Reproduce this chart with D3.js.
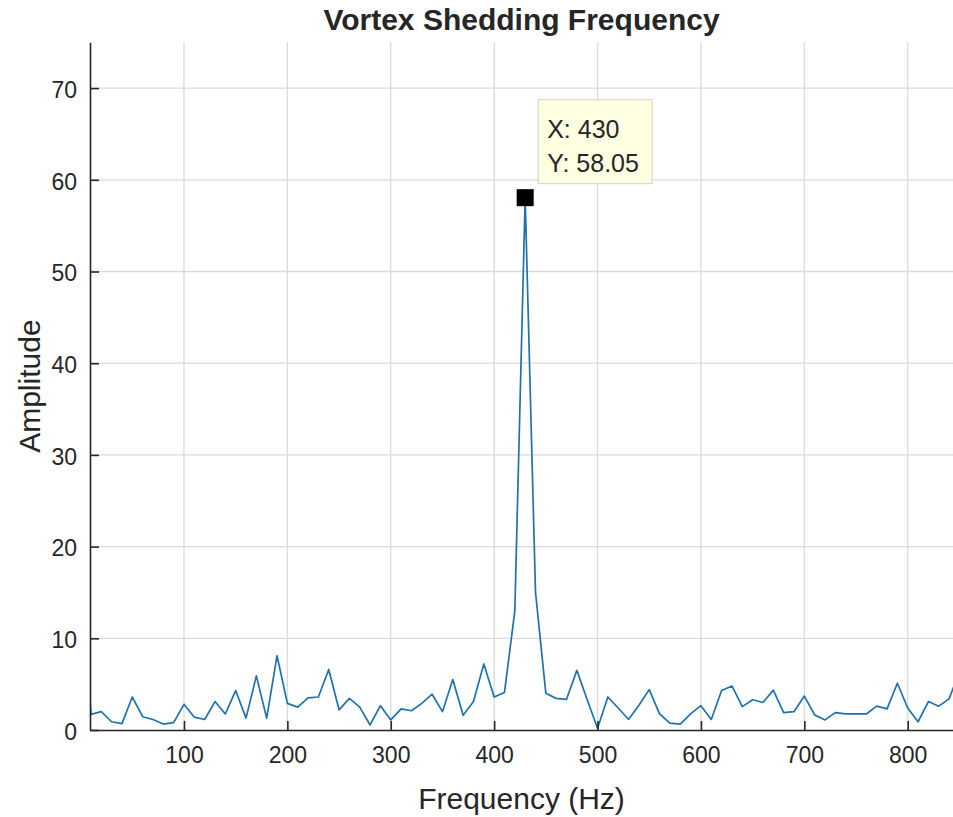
<!DOCTYPE html>
<html>
<head>
<meta charset="utf-8">
<script src="https://cdn.jsdelivr.net/npm/d3@7/dist/d3.min.js"></script>
<style>
  html, body { margin: 0; padding: 0; background: #ffffff; }
  svg { display: block; }
  text { font-family: "Liberation Sans", Arial, Helvetica, sans-serif; fill: #262626; }
</style>
</head>
<body>
<svg id="chart" width="953" height="817"></svg>
<script>
// Spectrum of the wake velocity signal, 10 Hz bins
const frequencies = [0, 10, 20, 30, 40, 50, 60, 70, 80, 90,
  100, 110, 120, 130, 140, 150, 160, 170, 180, 190,
  200, 210, 220, 230, 240, 250, 260, 270, 280, 290,
  300, 310, 320, 330, 340, 350, 360, 370, 380, 390,
  400, 410, 420, 430, 440, 450, 460, 470, 480, 490,
  500, 510, 520, 530, 540, 550, 560, 570, 580, 590,
  600, 610, 620, 630, 640, 650, 660, 670, 680, 690,
  700, 710, 720, 730, 740, 750, 760, 770, 780, 790,
  800, 810, 820, 830, 840, 850];

const amplitudes = [22.0, 1.7, 2.0, 0.9, 0.7, 3.6, 1.45, 1.15, 0.65, 0.8,
  2.8, 1.4, 1.15, 3.1, 1.75, 4.3, 1.3, 5.9, 1.3, 8.1,
  2.9, 2.5, 3.5, 3.6, 6.6, 2.2, 3.45, 2.5, 0.55, 2.65,
  1.1, 2.3, 2.1, 2.9, 3.9, 2.0, 5.5, 1.6, 3.1, 7.2,
  3.6, 4.1, 13.0, 58.05, 15.0, 4.0, 3.45, 3.35, 6.5, 3.3,
  0.2, 3.6, 2.4, 1.15, 2.7, 4.4, 1.75, 0.75, 0.65, 1.75,
  2.65, 1.15, 4.3, 4.8, 2.55, 3.3, 3.0, 4.35, 1.9, 2.0,
  3.7, 1.65, 1.1, 1.9, 1.75, 1.75, 1.75, 2.6, 2.3, 5.1,
  2.4, 0.9, 3.1, 2.6, 3.4, 6.3];

const xTicks = [100, 200, 300, 400, 500, 600, 700, 800];
const yTicks = [0, 10, 20, 30, 40, 50, 60, 70];
const xLimits = [9.1, 843.8];
const yLimits = [0, 75];

// Highlighted data point (data cursor)
const cursorFreq = 430;
const cursorAmp = 58.05;

const titleText = "Vortex Shedding Frequency";
const xLabelText = "Frequency (Hz)";
const yLabelText = "Amplitude";

const svg = d3.select("#chart");
const plot = { left: 90, right: 953, top: 42.25, bottom: 730 };

const x = d3.scaleLinear().domain(xLimits).range([plot.left, plot.right]);
const y = d3.scaleLinear().domain(yLimits).range([plot.bottom, plot.top]);

const gridColor = "#dadada";
const axisColor = "#262626";
const textColor = "#333333";

// grid
const grid = svg.append("g").attr("class", "grid");
grid.selectAll("line.gx").data(xTicks).join("line")
  .attr("class", "gx")
  .attr("x1", d => x(d)).attr("x2", d => x(d))
  .attr("y1", plot.top).attr("y2", plot.bottom)
  .attr("stroke", gridColor).attr("stroke-width", 1.3);
grid.selectAll("line.gy").data(yTicks.filter(d => d > 0)).join("line")
  .attr("class", "gy")
  .attr("x1", plot.left).attr("x2", plot.right)
  .attr("y1", d => y(d)).attr("y2", d => y(d))
  .attr("stroke", gridColor).attr("stroke-width", 1.3);

// spectrum line, clipped to the axes
svg.append("defs").append("clipPath").attr("id", "plotClip")
  .append("rect")
  .attr("x", plot.left).attr("y", plot.top)
  .attr("width", plot.right - plot.left).attr("height", plot.bottom - plot.top);

const points = frequencies.map((f, i) => [f, amplitudes[i]]);
const line = d3.line().x(d => x(d[0])).y(d => y(d[1]));

svg.append("path")
  .datum(points)
  .attr("clip-path", "url(#plotClip)")
  .attr("fill", "none")
  .attr("stroke", "#1f73ad")
  .attr("stroke-width", 1.7)
  .attr("stroke-linejoin", "round")
  .attr("d", line);

// axes with inward ticks
const tickFont = 23;
const xAxis = svg.append("g")
  .attr("transform", `translate(0,${plot.bottom})`)
  .call(d3.axisBottom(x).tickValues(xTicks).tickSize(-9).tickSizeOuter(0).tickPadding(17).tickFormat(d3.format("d")));
const yAxis = svg.append("g")
  .attr("transform", `translate(${plot.left},0)`)
  .call(d3.axisLeft(y).tickValues(yTicks).tickSize(-9).tickSizeOuter(0).tickPadding(13).tickFormat(d3.format("d")));

[xAxis, yAxis].forEach(g => {
  g.select(".domain").attr("stroke", axisColor).attr("stroke-width", 1.6);
  g.selectAll(".tick line").attr("stroke", axisColor).attr("stroke-width", 1.6);
  g.selectAll(".tick text")
    .attr("font-size", tickFont)
    .attr("font-family", "Liberation Sans, Arial, sans-serif")
    .attr("fill", textColor);
});
yAxis.selectAll(".tick text").attr("dy", "0.4em");

// data cursor marker
const mSize = 17;
svg.append("rect")
  .attr("x", x(cursorFreq) - mSize / 2)
  .attr("y", y(cursorAmp) - mSize / 2)
  .attr("width", mSize).attr("height", mSize)
  .attr("fill", "#000000");

// data tip box
const tip = svg.append("g")
  .attr("transform", `translate(${x(cursorFreq) + 13},${y(cursorAmp) - 98})`);
tip.append("rect")
  .attr("x", 0).attr("y", 0)
  .attr("width", 114).attr("height", 84)
  .attr("fill", "#ffffe1")
  .attr("stroke", "#d4d4c4").attr("stroke-width", 1);
tip.append("text").attr("x", 9).attr("y", 38)
  .attr("font-size", 25)
  .attr("fill", textColor)
  .text(`X: ${cursorFreq}`);
tip.append("text").attr("x", 9).attr("y", 72)
  .attr("font-size", 25)
  .attr("fill", textColor)
  .text(`Y: ${d3.format(".2f")(cursorAmp)}`);

// title and axis labels
const midX = (plot.left + plot.right) / 2;
svg.append("text")
  .attr("x", midX).attr("y", 30)
  .attr("text-anchor", "middle")
  .attr("font-size", 30).attr("font-weight", "bold")
  .attr("fill", "#000000")
  .text(titleText);

svg.append("text")
  .attr("x", midX).attr("y", 809)
  .attr("text-anchor", "middle")
  .attr("font-size", 30)
  .attr("fill", textColor)
  .text(xLabelText);

svg.append("text")
  .attr("transform", `translate(40,${(plot.top + plot.bottom) / 2}) rotate(-90)`)
  .attr("text-anchor", "middle")
  .attr("font-size", 30)
  .attr("fill", textColor)
  .text(yLabelText);
</script>
</body>
</html>
